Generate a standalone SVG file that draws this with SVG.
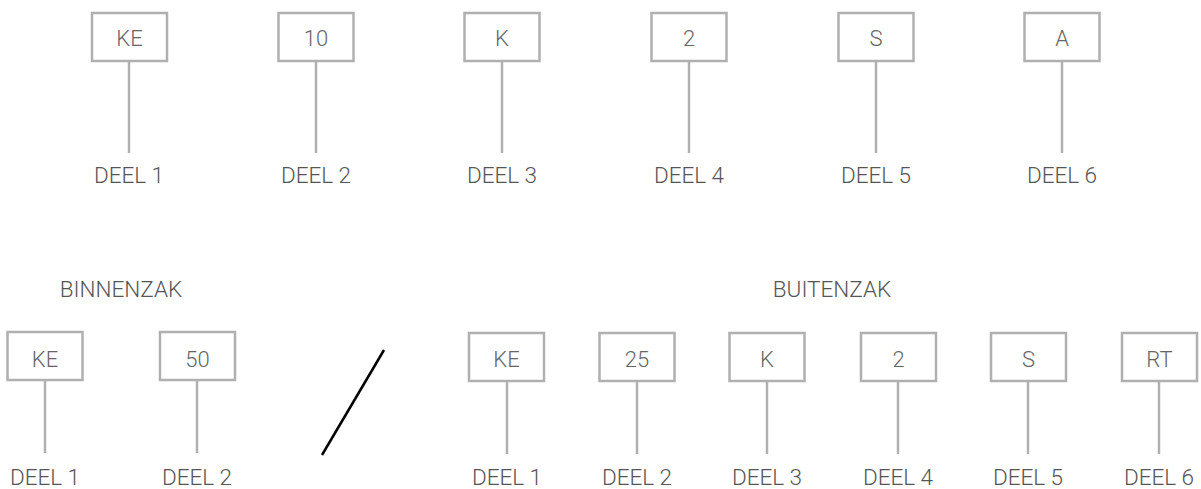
<svg xmlns="http://www.w3.org/2000/svg" width="1201" height="489" viewBox="0 0 1201 489">
<style>
.box{fill:#fff;stroke:#b0b0b0;stroke-width:2.5}
.con{stroke:#b0b0b0;stroke-width:2.5;fill:none}
.bt{font-family:Roboto,"Liberation Sans",sans-serif;font-weight:300;font-size:22px;fill:#666;text-anchor:middle}
.lb{font-family:Roboto,"Liberation Sans",sans-serif;font-weight:300;font-size:22.5px;fill:#555;text-anchor:middle}
</style>
<rect width="1201" height="489" fill="#fff"/>
<g id="connectors">
<line class="con" x1="129" y1="61" x2="129" y2="153"/>
<line class="con" x1="316" y1="61" x2="316" y2="153"/>
<line class="con" x1="502" y1="61" x2="502" y2="153"/>
<line class="con" x1="689" y1="61" x2="689" y2="153"/>
<line class="con" x1="876" y1="61" x2="876" y2="153"/>
<line class="con" x1="1062" y1="61" x2="1062" y2="153"/>
<line class="con" x1="45" y1="380" x2="45" y2="453"/>
<line class="con" x1="197" y1="380" x2="197" y2="453"/>
<line class="con" x1="507" y1="382" x2="507" y2="454"/>
<line class="con" x1="637" y1="382" x2="637" y2="454"/>
<line class="con" x1="767" y1="382" x2="767" y2="454"/>
<line class="con" x1="898" y1="382" x2="898" y2="454"/>
<line class="con" x1="1028" y1="382" x2="1028" y2="454"/>
<line class="con" x1="1159" y1="382" x2="1159" y2="454"/>
</g>
<g id="top-1"><rect class="box" x="92" y="13" width="75" height="48"/><text class="bt" x="129.5" y="46">KE</text><text class="lb" x="129" y="183">DEEL 1</text></g>
<g id="top-2"><rect class="box" x="278.5" y="13" width="75" height="48"/><text class="bt" x="316" y="46">10</text><text class="lb" x="316" y="183">DEEL 2</text></g>
<g id="top-3"><rect class="box" x="464.5" y="13" width="75" height="48"/><text class="bt" x="502" y="46">K</text><text class="lb" x="502" y="183">DEEL 3</text></g>
<g id="top-4"><rect class="box" x="651.5" y="13" width="75" height="48"/><text class="bt" x="689" y="46">2</text><text class="lb" x="689" y="183">DEEL 4</text></g>
<g id="top-5"><rect class="box" x="838.5" y="13" width="75" height="48"/><text class="bt" x="876" y="46">S</text><text class="lb" x="876" y="183">DEEL 5</text></g>
<g id="top-6"><rect class="box" x="1024.5" y="13" width="75" height="48"/><text class="bt" x="1062" y="46">A</text><text class="lb" x="1062" y="183">DEEL 6</text></g>
<g id="binnenzak-title"><text class="lb" x="121" y="297">BINNENZAK</text></g>
<g id="buitenzak-title"><text class="lb" x="832" y="297">BUITENZAK</text></g>
<g id="bin-1"><rect class="box" x="7.5" y="332" width="75" height="48"/><text class="bt" x="45" y="367">KE</text><text class="lb" x="45" y="485">DEEL 1</text></g>
<g id="bin-2"><rect class="box" x="160" y="332" width="75" height="48"/><text class="bt" x="197.5" y="367">50</text><text class="lb" x="197" y="485">DEEL 2</text></g>
<g id="slash"><line x1="322" y1="455" x2="384" y2="350" stroke="#000" stroke-width="2.5"/></g>
<g id="bui-1"><rect class="box" x="469" y="333" width="75" height="48"/><text class="bt" x="506.5" y="367">KE</text><text class="lb" x="507" y="485">DEEL 1</text></g>
<g id="bui-2"><rect class="box" x="599.5" y="333" width="75" height="48"/><text class="bt" x="637" y="367">25</text><text class="lb" x="637" y="485">DEEL 2</text></g>
<g id="bui-3"><rect class="box" x="729.5" y="333" width="75" height="48"/><text class="bt" x="767" y="367">K</text><text class="lb" x="767" y="485">DEEL 3</text></g>
<g id="bui-4"><rect class="box" x="861" y="333" width="75" height="48"/><text class="bt" x="898.5" y="367">2</text><text class="lb" x="898" y="485">DEEL 4</text></g>
<g id="bui-5"><rect class="box" x="991" y="333" width="75" height="48"/><text class="bt" x="1028.5" y="367">S</text><text class="lb" x="1028" y="485">DEEL 5</text></g>
<g id="bui-6"><rect class="box" x="1122" y="333" width="75" height="48"/><text class="bt" x="1159.5" y="367">RT</text><text class="lb" x="1159" y="485">DEEL 6</text></g>
</svg>
